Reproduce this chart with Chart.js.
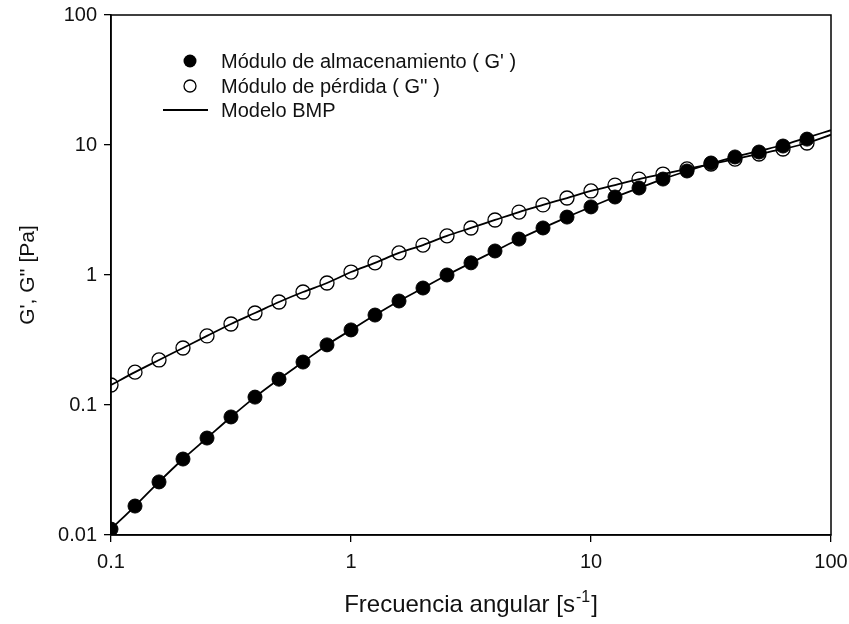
<!DOCTYPE html>
<html>
<head>
<meta charset="utf-8">
<script src="https://cdn.jsdelivr.net/npm/chart.js@4/dist/chart.umd.min.js"></script>
<style>
html,body{margin:0;padding:0;background:#fff;}
#wrap{width:849px;height:624px;position:relative;}
</style>
</head>
<body>
<div id="wrap"><canvas id="c" width="849" height="624"></canvas></div>
<script>
// Angular frequency [s^-1]
const freq = [0.1, 0.1259, 0.1585, 0.1995, 0.2512, 0.3162, 0.3981, 0.5012, 0.631, 0.7943,
  1, 1.259, 1.585, 1.995, 2.512, 3.162, 3.981, 5.012, 6.31, 7.943,
  10, 12.59, 15.85, 19.95, 25.12, 31.62, 39.81, 50.12, 63.1, 79.43];
// Storage modulus G' [Pa]
const gStorage = [0.0111, 0.0167, 0.0256, 0.0384, 0.0557, 0.0809, 0.115, 0.158, 0.214, 0.290,
  0.378, 0.492, 0.631, 0.794, 1.00, 1.24, 1.53, 1.89, 2.30, 2.79,
  3.34, 3.98, 4.67, 5.47, 6.31, 7.27, 8.09, 8.83, 9.82, 11.1];
// Loss modulus G'' [Pa]
const gLoss = [0.1425, 0.179, 0.222, 0.2745, 0.340, 0.420, 0.510, 0.620, 0.740, 0.868,
  1.054, 1.24, 1.48, 1.70, 2.00, 2.30, 2.65, 3.05, 3.46, 3.91,
  4.43, 4.92, 5.47, 5.98, 6.54, 7.14, 7.80, 8.53, 9.32, 10.36];
// BMP model curves
const modelFreq = [0.1, 0.1259, 0.1585, 0.1995, 0.2512, 0.3162, 0.3981, 0.5012, 0.631, 0.7943,
  1, 1.259, 1.585, 1.995, 2.512, 3.162, 3.981, 5.012, 6.31, 7.943,
  10, 12.59, 15.85, 19.95, 25.12, 31.62, 39.81, 50.12, 63.1, 79.43, 100];
const modelStorage = [0.0111, 0.0167, 0.0256, 0.0384, 0.0557, 0.0809, 0.115, 0.158, 0.214, 0.290,
  0.378, 0.492, 0.631, 0.794, 1.00, 1.24, 1.53, 1.89, 2.30, 2.79,
  3.34, 3.98, 4.67, 5.47, 6.31, 7.20, 8.10, 9.00, 10.0, 11.4, 13.0];
const modelLoss = [0.1425, 0.179, 0.222, 0.2745, 0.340, 0.420, 0.510, 0.620, 0.740, 0.868,
  1.054, 1.24, 1.48, 1.70, 2.00, 2.30, 2.65, 3.05, 3.46, 3.91,
  4.43, 4.92, 5.47, 5.98, 6.54, 7.14, 7.80, 8.53, 9.32, 10.36, 12.0];
const xTicks = [0.1, 1, 10, 100];
const yTicks = [0.01, 0.1, 1, 10, 100];
const legendLabels = ["Módulo de almacenamiento ( G' )", "Módulo de pérdida ( G'' )", "Modelo BMP"];
const xTitle = ["Frecuencia angular [s", "-1", "]"];
const yTitle = "G', G'' [Pa]";

const pts = (xs, ys) => xs.map((x, i) => ({x: x, y: ys[i]}));
const FONT = "'Liberation Sans', Arial, sans-serif";

const legendPlugin = {
  id: 'customLegend',
  afterDatasetsDraw(chart) {
    const ctx = chart.ctx;
    ctx.save();
    ctx.font = "20px " + FONT;
    ctx.textBaseline = 'middle';
    ctx.textAlign = 'left';
    const tx = 221;
    const rows = [61, 86, 110];
    ctx.beginPath(); ctx.arc(190, rows[0], 6.5, 0, Math.PI * 2); ctx.fillStyle = '#000'; ctx.fill();
    ctx.beginPath(); ctx.arc(190, rows[1], 6, 0, Math.PI * 2); ctx.lineWidth = 1.3; ctx.strokeStyle = '#000'; ctx.stroke();
    ctx.beginPath(); ctx.moveTo(163, rows[2]); ctx.lineTo(208, rows[2]); ctx.lineWidth = 1.8; ctx.stroke();
    ctx.fillStyle = '#111';
    legendLabels.forEach((t, i) => ctx.fillText(t, tx, rows[i] + 1));
    ctx.restore();
  }
};

const framePlugin = {
  id: 'frame',
  afterDraw(chart) {
    const a = chart.chartArea, ctx = chart.ctx;
    ctx.save();
    ctx.strokeStyle = '#000';
    ctx.lineWidth = 1.5;
    ctx.strokeRect(a.left, a.top, a.right - a.left, a.bottom - a.top);
    // x axis title with superscript
    ctx.fillStyle = '#111';
    ctx.textBaseline = 'alphabetic';
    ctx.textAlign = 'left';
    const big = "24px " + FONT, small = "16px " + FONT;
    ctx.font = big; const w1 = ctx.measureText(xTitle[0]).width; const w3 = ctx.measureText(xTitle[2]).width;
    ctx.font = small; const w2 = ctx.measureText(xTitle[1]).width;
    const total = w1 + w2 + w3 + 2;
    let x = (a.left + a.right) / 2 - total / 2;
    const base = 612;
    ctx.font = big; ctx.fillText(xTitle[0], x, base); x += w1 + 1;
    ctx.font = small; ctx.fillText(xTitle[1], x, base - 10); x += w2 + 1;
    ctx.font = big; ctx.fillText(xTitle[2], x, base);
    // y axis title
    ctx.save();
    ctx.translate(28, (a.top + a.bottom) / 2);
    ctx.rotate(-Math.PI / 2);
    ctx.textAlign = 'center';
    ctx.textBaseline = 'middle';
    ctx.font = "21px " + FONT;
    ctx.fillText(yTitle, 0, 0);
    ctx.restore();
    ctx.restore();
  }
};

const fmt = v => (v >= 1 ? String(Math.round(v)) : String(v));

new Chart(document.getElementById('c'), {
  type: 'line',
  data: {
    datasets: [
      {
        label: "Modelo BMP G'",
        data: pts(modelFreq, modelStorage),
        borderColor: '#000', borderWidth: 1.8, pointRadius: 0, fill: false,
        cubicInterpolationMode: 'monotone', order: 3
      },
      {
        label: "Modelo BMP G''",
        data: pts(modelFreq, modelLoss),
        borderColor: '#000', borderWidth: 1.8, pointRadius: 0, fill: false,
        cubicInterpolationMode: 'monotone', order: 3
      },
      {
        label: legendLabels[0],
        data: pts(freq, gStorage),
        showLine: false, pointRadius: 7, pointBackgroundColor: '#000',
        pointBorderColor: '#000', pointBorderWidth: 1, order: 2
      },
      {
        label: legendLabels[1],
        data: pts(freq, gLoss),
        showLine: false, pointRadius: 7, pointBackgroundColor: 'rgba(0,0,0,0)',
        pointBorderColor: '#000', pointBorderWidth: 1.3, order: 1
      }
    ]
  },
  options: {
    responsive: false,
    animation: false,
    layout: { padding: { top: 15, right: 18, left: 0, bottom: 0 } },
    plugins: { legend: { display: false }, tooltip: { enabled: false } },
    scales: {
      x: {
        type: 'logarithmic', min: 0.1, max: 100,
        afterBuildTicks: s => { s.ticks = xTicks.map(v => ({value: v})); },
        afterFit: s => { s.height = 89; s.paddingLeft = 0; s.paddingRight = 0; },
        ticks: { callback: v => fmt(v), color: '#111', font: { family: FONT, size: 20 }, padding: 8, maxRotation: 0, autoSkip: false },
        grid: { drawOnChartArea: false, drawTicks: true, tickLength: 7, color: '#000', lineWidth: 1.3 },
        border: { display: true, color: '#000', width: 1.5 },
        title: { display: false }
      },
      y: {
        type: 'logarithmic', min: 0.01, max: 100,
        afterBuildTicks: s => { s.ticks = yTicks.map(v => ({value: v})); },
        afterFit: s => { s.width = 111; s.paddingTop = 0; s.paddingBottom = 0; },
        ticks: { callback: v => fmt(v), color: '#111', font: { family: FONT, size: 20 }, padding: 7, autoSkip: false },
        grid: { drawOnChartArea: false, drawTicks: true, tickLength: 7, color: '#000', lineWidth: 1.3 },
        border: { display: true, color: '#000', width: 1.5 },
        title: { display: false }
      }
    }
  },
  plugins: [legendPlugin, framePlugin]
});
</script>
</body>
</html>
